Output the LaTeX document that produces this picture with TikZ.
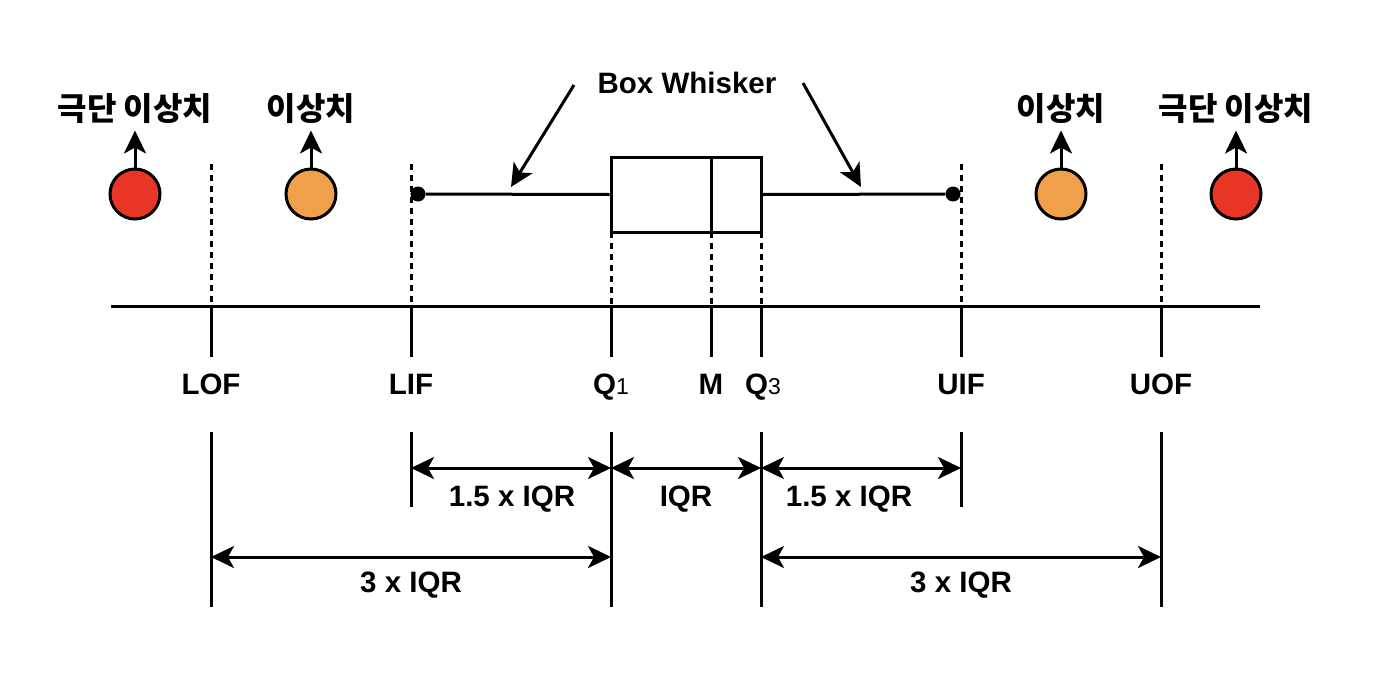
\documentclass[tikz,border=0pt]{standalone}
\usepackage{fontspec}
\setmainfont{Liberation Sans}
\newfontfamily\kr{Noto Sans CJK KR}
\usetikzlibrary{arrows.meta,calc}
\definecolor{extred}{HTML}{E93525}
\definecolor{outorange}{HTML}{F0A04B}
\tikzset{
  ln/.style={line width=3pt},
  dsh/.style={line width=3pt, dash pattern=on 6pt off 5pt},
  tp/.style={-{Stealth[length=23pt,width=22pt,inset=6pt]}},
  tpp/.style={{Stealth[length=23pt,width=22pt,inset=6pt]}-{Stealth[length=23pt,width=22pt,inset=6pt]}},
  lbl/.style={anchor=base, inner sep=0pt, font=\fontsize{29.5}{33}\selectfont\bfseries},
  krl/.style={anchor=base, inner sep=0pt, font=\kr\fontsize{32}{36}\selectfont\bfseries},
  pt/.style={circle, draw, line width=3pt, minimum size=50pt, inner sep=0pt},
  dot/.style={circle, fill=black, minimum size=15pt, inner sep=0pt},
}
\begin{document}
\begin{tikzpicture}[x=1pt, y=-1pt]
\useasboundingbox (0,0) rectangle (1376,675);
% axis
\coordinate (axL) at (111,306);
\coordinate (axR) at (1260,306);
\draw[ln] (axL) -- (axR);
% tick positions
\foreach \n/\x in {LOF/211, LIF/411, Qa/611, M/711, Qc/761, UIF/961, UOF/1161}{
  \coordinate (\n-ax) at (\x,306);
  \coordinate (\n-dn) at (\x,357);
  \coordinate (\n-lo) at (\x,432);
}
% dashed guides
\foreach \n/\x in {LOF/211, LIF/411, UIF/961, UOF/1161}{
  \coordinate (\n-up) at (\x,164);
  \draw[dsh] (\n-up) -- (\n-ax);
}
\foreach \n/\x in {Qa/611, M/711, Qc/761}{
  \coordinate (\n-up) at (\x,232);
  \draw[dsh] (\n-up) -- (\n-ax);
}
% solid ticks below axis
\foreach \n in {LOF, LIF, Qa, M, Qc, UIF, UOF}{
  \draw[ln] (\n-ax) -- (\n-dn);
}
% tick labels
\node[lbl] (tLOF) at (211,394) {LOF};
\node[lbl] (tLIF) at (411,394) {LIF};
\node[lbl] (tQa) at (611,394) {Q{\mdseries\fontsize{23}{25}\selectfont 1}};
\node[lbl] (tM) at (711,394) {M};
\node[lbl] (tQc) at (763,394) {Q{\mdseries\fontsize{23}{25}\selectfont 3}};
\node[lbl] (tUIF) at (961,394) {UIF};
\node[lbl] (tUOF) at (1161,394) {UOF};
% lower extension lines
\foreach \n/\x in {LOF/211, Qa/611, Qc/761, UOF/1161}{
  \coordinate (\n-end) at (\x,607);
  \draw[ln] (\n-lo) -- (\n-end);
}
\foreach \n/\x in {LIF/411, UIF/961}{
  \coordinate (\n-end) at (\x,507);
  \draw[ln] (\n-lo) -- (\n-end);
}
% dimension arrows
\coordinate (a1) at (411,468); \coordinate (a2) at (611,468);
\coordinate (a3) at (761,468); \coordinate (a4) at (961,468);
\draw[ln, tpp] (a1) -- (a2);
\draw[ln, tpp] (a2) -- (a3);
\draw[ln, tpp] (a3) -- (a4);
\node[lbl] (d1) at (512,506) {1.5 x IQR};
\node[lbl] (d2) at (686,506) {IQR};
\node[lbl] (d3) at (849,506) {1.5 x IQR};
\coordinate (b1) at (211,557); \coordinate (b2) at (611,557);
\coordinate (b3) at (761,557); \coordinate (b4) at (1161,557);
\draw[ln, tpp] (b1) -- (b2);
\draw[ln, tpp] (b3) -- (b4);
\node[lbl] (e1) at (411,592) {3 x IQR};
\node[lbl] (e2) at (961,592) {3 x IQR};
% box
\node[draw, line width=3pt, minimum width=150pt, minimum height=75pt, inner sep=0pt] (box) at (686,194.5) {};
\coordinate (medT) at (711,157); \coordinate (medB) at (711,232);
\draw[ln] (medT) -- (medB);
% whiskers
\node[dot] (dl) at (418,194) {};
\node[dot] (dr) at (953,194) {};
\draw[ln] (dl) -- (box.west);
\draw[ln] (box.east) -- (dr);
% box whisker label
\node[lbl] (bw) at (687,93) {Box Whisker};
\coordinate (bwl) at (574,85); \coordinate (bwlt) at (511,187);
\coordinate (bwr) at (803,83); \coordinate (bwrt) at (861,187);
\draw[ln, tp] (bwl) -- (bwlt);
\draw[ln, tp] (bwr) -- (bwrt);
% outlier points
\node[pt, fill=extred] (o1) at (135,194) {};
\node[pt, fill=outorange] (o2) at (311,194) {};
\node[pt, fill=outorange] (o3) at (1061,194) {};
\node[pt, fill=extred] (o4) at (1236,194) {};
\foreach \o in {o1,o2,o3,o4}{
  \coordinate (\o-t) at ($(\o.north)+(0,-37)$);
  \draw[ln, tp] (\o.north) -- (\o-t);
}
\node[krl] (k1) at (135,120) {극단 이상치};
\node[krl] (k2) at (311,120) {이상치};
\node[krl] (k3) at (1061,120) {이상치};
\node[krl] (k4) at (1236,120) {극단 이상치};
\end{tikzpicture}
\end{document}
